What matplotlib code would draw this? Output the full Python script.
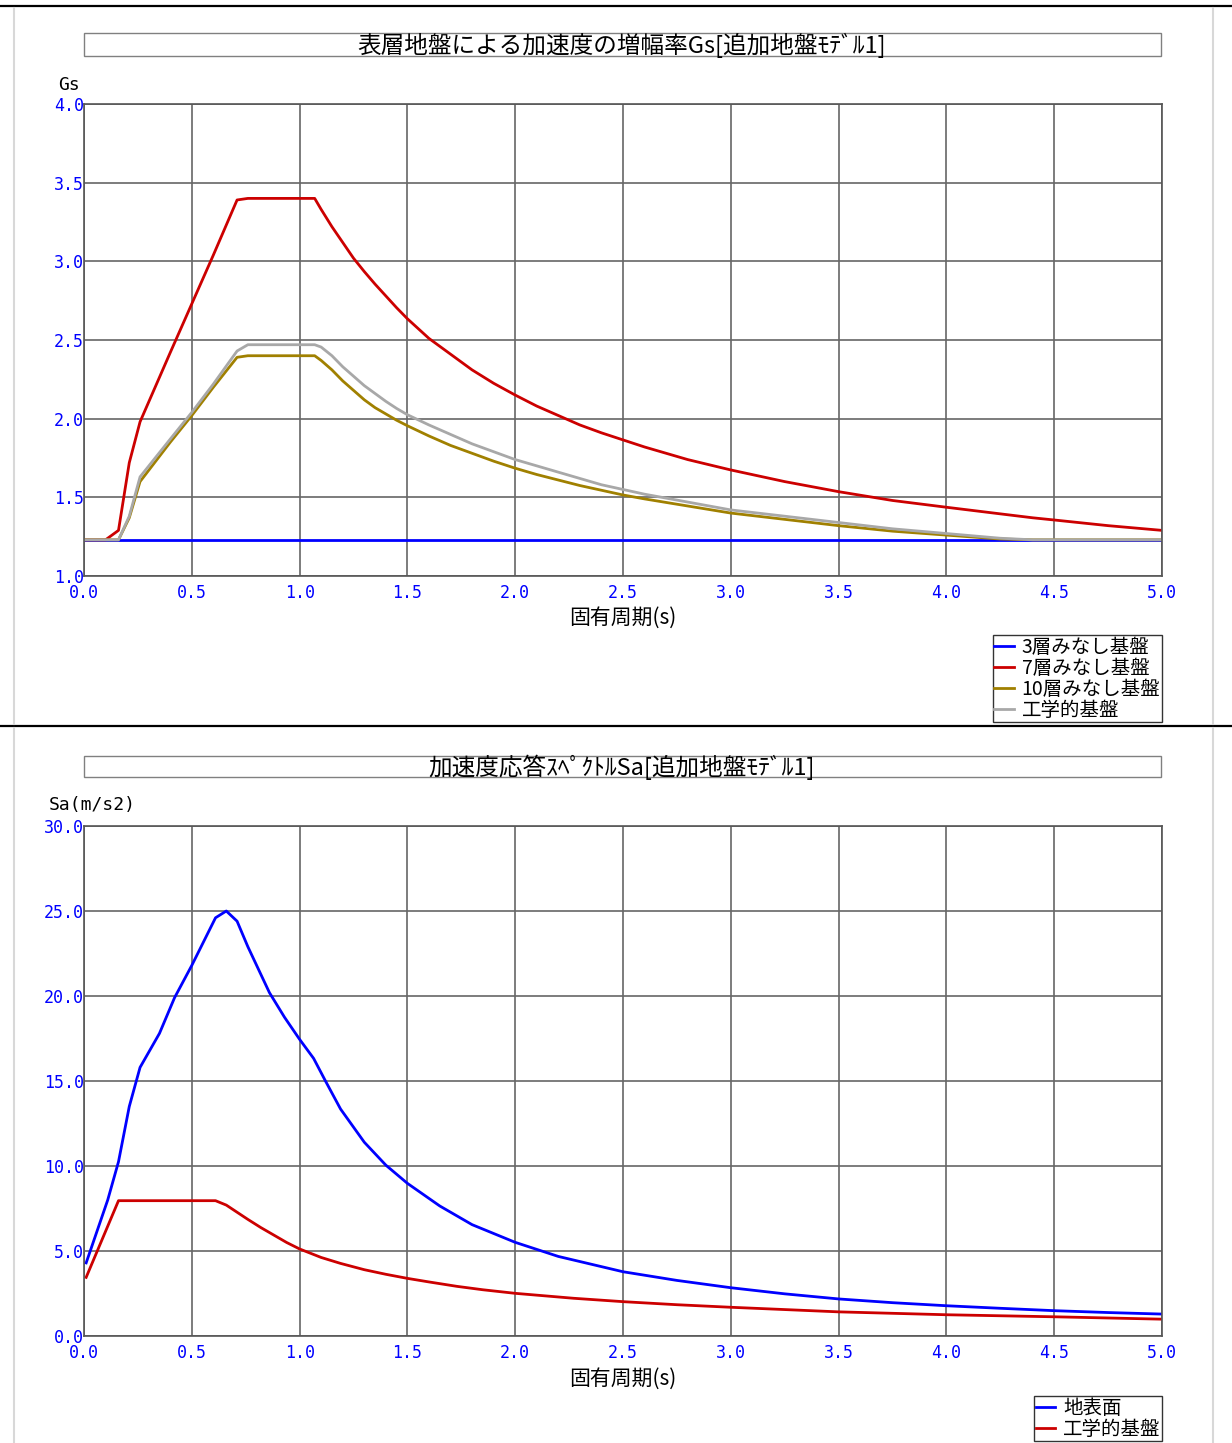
import numpy as np
import matplotlib.pyplot as plt
from matplotlib.lines import Line2D
from matplotlib.patches import Rectangle

plt.rcParams['font.family'] = ['Noto Sans CJK JP', 'DejaVu Sans']

# --- Gs chart data ---
gs_period = [0.0, 0.1, 0.16, 0.21, 0.26, 0.4, 0.5, 0.6, 0.71, 0.76,
             0.9, 1.07, 1.1, 1.15, 1.2, 1.25, 1.3, 1.35, 1.4, 1.45,
             1.5, 1.6, 1.7, 1.8, 1.9, 2.0, 2.1, 2.2, 2.3, 2.4,
             2.5, 2.6, 2.8, 3.0, 3.25, 3.5, 3.75, 4.0, 4.25, 4.4,
             4.5, 4.75, 5.0]
gs_3f = [1.23] * len(gs_period)
gs_7f = [1.23, 1.23, 1.29, 1.72, 1.98, 2.42, 2.73, 3.04, 3.39, 3.40,
         3.40, 3.40, 3.33, 3.22, 3.12, 3.02, 2.935, 2.855, 2.78, 2.705,
         2.635, 2.51, 2.41, 2.31, 2.225, 2.15, 2.08, 2.02, 1.96, 1.91,
         1.865, 1.82, 1.74, 1.674, 1.60, 1.536, 1.48, 1.437, 1.395, 1.37,
         1.356, 1.32, 1.29]
gs_10f = [1.23, 1.23, 1.23, 1.37, 1.60, 1.85, 2.02, 2.20, 2.39, 2.40,
          2.40, 2.40, 2.37, 2.31, 2.24, 2.18, 2.12, 2.07, 2.03, 1.99,
          1.955, 1.89, 1.83, 1.78, 1.73, 1.685, 1.645, 1.61, 1.575, 1.545,
          1.515, 1.49, 1.445, 1.40, 1.36, 1.32, 1.285, 1.26, 1.235, 1.23,
          1.23, 1.23, 1.23]
gs_eng = [1.23, 1.23, 1.23, 1.38, 1.63, 1.87, 2.04, 2.22, 2.43, 2.47,
          2.47, 2.47, 2.455, 2.40, 2.33, 2.27, 2.21, 2.16, 2.11, 2.065,
          2.025, 1.96, 1.90, 1.84, 1.79, 1.74, 1.70, 1.66, 1.62, 1.58,
          1.55, 1.52, 1.47, 1.42, 1.38, 1.34, 1.30, 1.27, 1.24, 1.23,
          1.23, 1.23, 1.23]
gs_labels = ['3層みなし基盤', '7層みなし基盤', '10層みなし基盤', '工学的基盤']
gs_colors = ['#0000ff', '#cc0000', '#a08000', '#a8a8a8']

# --- Sa chart data ---
sa_period = [0.01, 0.11, 0.16, 0.21, 0.26, 0.35, 0.42, 0.5, 0.61, 0.66,
             0.71, 0.76, 0.86, 0.93, 1.0, 1.065, 1.12, 1.19, 1.3, 1.4,
             1.5, 1.65, 1.8, 2.0, 2.2, 2.5, 2.75, 3.0, 3.25, 3.5,
             3.75, 4.0, 4.25, 4.5, 4.75, 5.0]
sa_surface = [4.3, 8.0, 10.25, 13.5, 15.8, 17.8, 19.9, 21.8, 24.6, 25.0,
              24.4, 22.9, 20.2, 18.75, 17.45, 16.33, 15.0, 13.35, 11.4, 10.05,
              8.98, 7.65, 6.55, 5.51, 4.68, 3.78, 3.27, 2.84, 2.48, 2.18,
              1.96, 1.78, 1.63, 1.49, 1.38, 1.29]
sa_eng_period = [0.01, 0.16, 0.61, 0.66, 0.71, 0.76, 0.82, 0.88, 0.94, 1.0,
                 1.1, 1.19, 1.3, 1.4, 1.5, 1.6, 1.73, 1.85, 2.0, 2.27,
                 2.5, 2.75, 3.0, 3.5, 4.0, 4.5, 5.0]
sa_eng = [3.45, 7.96, 7.96, 7.7, 7.28, 6.86, 6.38, 5.94, 5.5, 5.12,
          4.62, 4.27, 3.9, 3.63, 3.39, 3.18, 2.92, 2.72, 2.51, 2.22,
          2.02, 1.84, 1.69, 1.42, 1.25, 1.13, 0.99]
sa_labels = ['地表面', '工学的基盤']
sa_colors = ['#0000ff', '#cc0000']

x_ticks = np.arange(0, 5.01, 0.5)

W, H = 1232, 1443
fig = plt.figure(figsize=(W / 100, H / 100), dpi=100)


def fx(px):
    return px / W


def fy(py):
    return 1 - py / H


# panel frame lines
fig.add_artist(Line2D([0, 1], [fy(6), fy(6)], color='black', lw=1.6))
fig.add_artist(Line2D([0, 1], [fy(726), fy(726)], color='black', lw=1.6))
for xp in (14, 1213):
    fig.add_artist(Line2D([fx(xp), fx(xp)], [fy(8), fy(724)], color='#d8d8d8', lw=1.5))
    fig.add_artist(Line2D([fx(xp), fx(xp)], [fy(728), 0], color='#d8d8d8', lw=1.5))


def title_box(y0, y1, text):
    fig.add_artist(Rectangle((fx(84), fy(y1)), fx(1161) - fx(84), fy(y0) - fy(y1),
                             fill=False, edgecolor='#808080', lw=1.0,
                             transform=fig.transFigure))
    fig.text(fx(622), fy((y0 + y1) / 2 + 1), text, ha='center', va='center', fontsize=17)


def setup(ax, ymin, ymax, ystep):
    ax.set_xlim(0, 5)
    ax.set_ylim(ymin, ymax)
    ax.set_xticks(x_ticks)
    ax.set_xticklabels([f'{v:.1f}' for v in x_ticks])
    yt = np.arange(ymin, ymax + ystep / 2, ystep)
    ax.set_yticks(yt)
    ax.set_yticklabels([f'{v:.1f}' for v in yt])
    for lab in ax.get_xticklabels() + ax.get_yticklabels():
        lab.set_color('#0000ff')
        lab.set_family('DejaVu Sans Mono')
        lab.set_fontsize(12)
    ax.tick_params(axis='x', length=0, pad=6)
    ax.tick_params(axis='y', length=0, pad=0)
    ax.grid(True, color='#666666', lw=1.2)
    ax.set_axisbelow(True)
    for s in ax.spines.values():
        s.set_color('#555555')
        s.set_linewidth(1.2)


def add_legend(ax, top_px):
    ax.legend(loc='upper right', bbox_to_anchor=(fx(1162), fy(top_px)),
              bbox_transform=fig.transFigure, borderaxespad=0, fancybox=False,
              edgecolor='#333333', framealpha=1, fontsize=14, handlelength=1.0,
              handletextpad=0.4, labelspacing=0.0, borderpad=0.08)


# ---- top: Gs ----
ax1 = fig.add_axes([fx(84), fy(576), fx(1162) - fx(84), fy(104) - fy(576)])
for vals, lab, col in zip([gs_3f, gs_7f, gs_10f, gs_eng], gs_labels, gs_colors):
    ax1.plot(gs_period, vals, color=col, lw=2.0, label=lab)
setup(ax1, 1.0, 4.0, 0.5)
title_box(33, 56, '表層地盤による加速度の増幅率Gs[追加地盤ﾓﾃﾞﾙ1]')
fig.text(fx(58), fy(85), 'Gs', family='DejaVu Sans Mono', fontsize=13, va='center')
fig.text(fx(623), fy(618), '固有周期(s)', ha='center', va='center', fontsize=15)
add_legend(ax1, 635)

# ---- bottom: Sa ----
ax2 = fig.add_axes([fx(84), fy(1336), fx(1162) - fx(84), fy(826) - fy(1336)])
ax2.plot(sa_period, sa_surface, color=sa_colors[0], lw=2.0, label=sa_labels[0])
ax2.plot(sa_eng_period, sa_eng, color=sa_colors[1], lw=2.0, label=sa_labels[1])
setup(ax2, 0.0, 30.0, 5.0)
title_box(756, 777, '加速度応答ｽﾍﾟｸﾄﾙSa[追加地盤ﾓﾃﾞﾙ1]')
fig.text(fx(49), fy(805), 'Sa(m/s2)', family='DejaVu Sans Mono', fontsize=13, va='center')
fig.text(fx(623), fy(1379), '固有周期(s)', ha='center', va='center', fontsize=15)
add_legend(ax2, 1396)

fig.savefig('out.png', dpi=100)
